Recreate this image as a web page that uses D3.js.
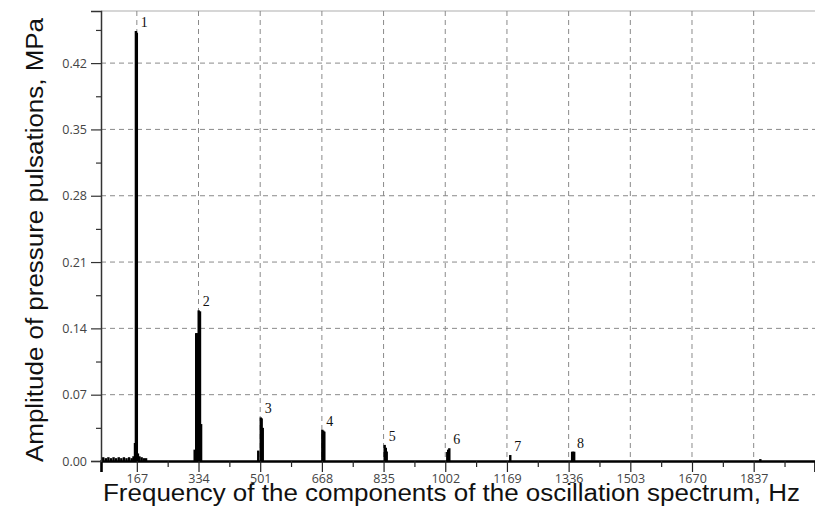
<!DOCTYPE html>
<html>
<head>
<meta charset="utf-8">
<script src="https://cdn.jsdelivr.net/npm/d3@7"></script>
<style>
  body { margin: 0; background: #fff; }
  .tick-label { font-family: "Open Sans", sans-serif; font-size: 12.5px; fill: #444; }
  .axis-title { font-family: "Liberation Sans", Arial, sans-serif; font-size: 23px; fill: #111; }
  .peak-label { font-family: "Liberation Serif", "Times New Roman", serif; font-size: 14px; fill: #111; }
</style>
</head>
<body>
<div id="chart"></div>
<script>
// spectrum lines (Hz, MPa)
const freqs = [76, 83, 90, 97, 104, 111, 118, 125, 132, 139, 146, 153, 158,
               162, 164.5, 167, 170, 174, 180, 186, 192,
               323.6, 327.7, 331, 334.5, 338, 341,
               495.7, 502.5, 505, 507.9,
               669.2, 672, 674.6,
               838, 841, 843.5,
               1007.5, 1010, 1013,
               1178,
               1345.5, 1348, 1351,
               1855];
const amps = [0.004, 0.003, 0.004, 0.003, 0.004, 0.003, 0.004, 0.003, 0.004, 0.003, 0.004, 0.003, 0.005,
              0.019, 0.454, 0.452, 0.008, 0.005, 0.004, 0.003, 0.003,
              0.012, 0.135, 0.135, 0.159, 0.158, 0.039,
              0.011, 0.046, 0.045, 0.035,
              0.033, 0.032, 0.031,
              0.017, 0.014, 0.010,
              0.0095, 0.012, 0.0135,
              0.0063,
              0.0098, 0.0098, 0.0098,
              0.002];

// harmonic labels
const peakNames = ['1', '2', '3', '4', '5', '6', '7', '8'];
const peakFreqs = [167, 334.5, 502.5, 669.2, 838, 1013, 1178, 1348];
const peakAmps = [0.454, 0.159, 0.046, 0.033, 0.017, 0.0135, 0.0063, 0.0098];

// axis ticks
const xTicks = [167, 334, 501, 668, 835, 1002, 1169, 1336, 1503, 1670, 1837];
const xMinor = [250.5, 417.5, 584.5, 751.5, 918.5, 1085.5, 1252.5, 1419.5, 1586.5, 1753.5, 1920.5];
const yTicks = [0, 0.07, 0.14, 0.21, 0.28, 0.35, 0.42];
const yMinor = [0.035, 0.105, 0.175, 0.245, 0.315, 0.385, 0.455];

const width = 815, height = 525;
const margin = { top: 11, right: 0, bottom: 64, left: 101 };
const innerW = width - margin.left - margin.right;
const innerH = height - margin.top - margin.bottom;

const svg = d3.select('#chart').append('svg')
    .attr('width', width)
    .attr('height', height);

const g = svg.append('g')
    .attr('transform', `translate(${margin.left},${margin.top})`);

const x = d3.scaleLinear().domain([70, 2003]).range([0, innerW]);
const y = d3.scaleLinear().domain([0, 0.475]).range([innerH, 0]);

// top frame line
g.append('line')
    .attr('x1', 0).attr('x2', innerW)
    .attr('y1', 0).attr('y2', 0)
    .attr('stroke', '#c8c8c8')
    .attr('stroke-width', 1.5);

// dashed grid
g.selectAll('.vgrid')
    .data(xTicks)
    .join('line')
    .attr('class', 'vgrid')
    .attr('x1', d => x(d)).attr('x2', d => x(d))
    .attr('y1', 0).attr('y2', innerH)
    .attr('stroke', '#8a8a8a')
    .attr('stroke-dasharray', '5,4');

g.selectAll('.hgrid')
    .data(yTicks.filter(d => d > 0))
    .join('line')
    .attr('class', 'hgrid')
    .attr('x1', 0).attr('x2', innerW)
    .attr('y1', d => y(d)).attr('y2', d => y(d))
    .attr('stroke', '#8a8a8a')
    .attr('stroke-dasharray', '5,4');

// spectrum lines
const spectrum = freqs.map((f, i) => ({ f, a: amps[i] }));
g.selectAll('.stem')
    .data(spectrum)
    .join('line')
    .attr('class', 'stem')
    .attr('x1', d => x(d.f)).attr('x2', d => x(d.f))
    .attr('y1', y(0)).attr('y2', d => y(d.a))
    .attr('stroke', '#000')
    .attr('stroke-width', 2.4);

// axes
const xAxis = g.append('g')
    .attr('transform', `translate(0,${innerH})`)
    .call(d3.axisBottom(x).tickValues(xTicks).tickSize(11).tickPadding(2).tickFormat(d3.format('d')));
xAxis.select('.domain').attr('stroke', '#000').attr('stroke-width', 2.6);
xAxis.selectAll('.tick line').attr('stroke', '#222').attr('stroke-width', 1.2);
xAxis.selectAll('.tick text').attr('class', 'tick-label').attr('fill', null);

const xMinorAxis = g.append('g')
    .attr('transform', `translate(0,${innerH})`)
    .call(d3.axisBottom(x).tickValues(xMinor).tickSize(6).tickFormat(''));
xMinorAxis.select('.domain').remove();
xMinorAxis.selectAll('.tick line').attr('stroke', '#222').attr('stroke-width', 1.2);

const yAxis = g.append('g')
    .call(d3.axisLeft(y).tickValues(yTicks).tickSize(10).tickPadding(4).tickFormat(d3.format('.2f')));
yAxis.select('.domain').attr('stroke', '#333').attr('stroke-width', 1.5);
yAxis.selectAll('.tick line').attr('stroke', '#333').attr('stroke-width', 1.2);
yAxis.selectAll('.tick text').attr('class', 'tick-label').attr('fill', null);

const yMinorAxis = g.append('g')
    .call(d3.axisLeft(y).tickValues(yMinor).tickSize(5).tickFormat(''));
yMinorAxis.select('.domain').remove();
yMinorAxis.selectAll('.tick line').attr('stroke', '#333').attr('stroke-width', 1.2);

// harmonic numbers
g.selectAll('.peak-label')
    .data(peakNames)
    .join('text')
    .attr('class', 'peak-label')
    .attr('x', (d, i) => x(peakFreqs[i]) + 4)
    .attr('y', (d, i) => y(peakAmps[i]) - 4)
    .text(d => d);

// axis titles, stretched to the width they take in the picture
svg.append('text')
    .attr('class', 'axis-title')
    .attr('x', 103)
    .attr('y', 501)
    .attr('textLength', 697)
    .attr('lengthAdjust', 'spacingAndGlyphs')
    .text('Frequency of the components of the oscillation spectrum, Hz');

svg.append('text')
    .attr('class', 'axis-title')
    .attr('transform', 'translate(43, 462) rotate(-90)')
    .attr('textLength', 444)
    .attr('lengthAdjust', 'spacingAndGlyphs')
    .text('Amplitude of pressure pulsations, MPa');
</script>
</body>
</html>
